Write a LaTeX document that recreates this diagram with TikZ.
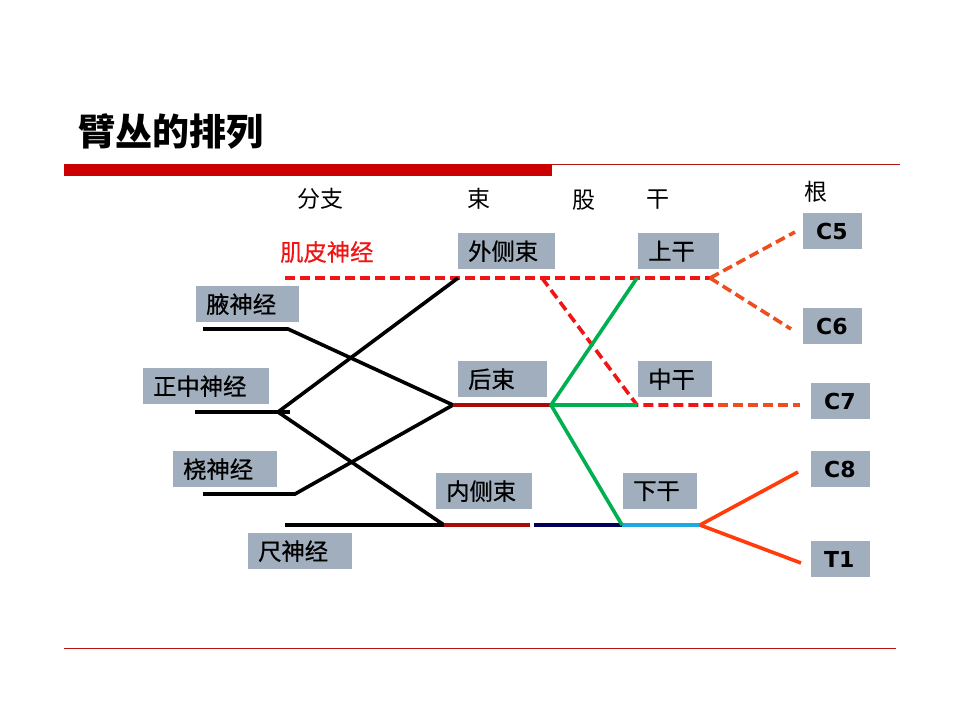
\documentclass[tikz,border=0pt]{standalone}
\usepackage{fontspec}
\newfontfamily\cjk{Noto Sans CJK SC}
\newfontfamily\cjkm[FakeBold=0.5]{Noto Sans CJK SC}
\newfontfamily\lat{DejaVu Sans}
\definecolor{boxgray}{RGB}{161,174,190}
\definecolor{barred}{RGB}{204,0,0}
\definecolor{linered}{RGB}{180,20,20}
\definecolor{dashred}{RGB}{240,20,20}
\definecolor{dashorange}{RGB}{238,78,30}
\definecolor{solidorange}{RGB}{255,60,10}
\definecolor{nervegreen}{RGB}{0,176,80}
\definecolor{darkred}{RGB}{170,10,10}
\definecolor{navyblue}{RGB}{0,0,90}
\definecolor{skyblue}{RGB}{30,170,225}
\tikzset{
  box/.style={fill=boxgray, anchor=north west, minimum height=36pt, inner xsep=10pt, inner ysep=0pt, align=left, font=\cjkm\fontsize{23.3}{27}\selectfont},
  cbox/.style={fill=boxgray, anchor=north west, minimum height=36pt, inner xsep=13pt, inner ysep=0pt, align=left, text width=33pt, font=\lat\bfseries\fontsize{22}{26}\selectfont},
  head/.style={font=\cjk\fontsize{23}{26}\selectfont},
  nline/.style={line width=3.6pt},
  blk/.style={nline, black},
  rdash/.style={nline, dashred, dash pattern=on 10pt off 5pt},
  odash/.style={nline, dashorange, dash pattern=on 10pt off 5pt},
}
\begin{document}
\begin{tikzpicture}[x=1pt,y=-1pt]
\useasboundingbox (0,0) rectangle (960,720);
% title and rules
\node[anchor=west, inner xsep=0pt, font=\cjk\bfseries\fontsize{37}{42}\selectfont] (title) at (78,132) {臂丛的排列};
\fill[barred] (64,164) rectangle (552,176);
\draw[linered, line width=1pt] (552,164.5) -- (900,164.5);
\draw[linered, line width=1pt] (64,648) -- (896,648);
% headers
\node[head] (hbr) at (320,199) {分支};
\node[head] (hco) at (479,199) {束};
\node[head] (hdi) at (584,200) {股};
\node[head] (htr) at (658,200) {干};
\node[head] (hro) at (816,192) {根};
% label boxes
\node[box, text width=77pt] (lat) at (458,233) {外侧束};
\node[box, text width=61pt] (sup) at (638,233) {上干};
\node[box, text width=69pt] (post) at (458,361) {后束};
\node[box, text width=54pt] (mid) at (638,361) {中干};
\node[box, text width=76pt] (med) at (436,473) {内侧束};
\node[box, text width=54pt] (inf) at (623,473) {下干};
\node[box, text width=84pt] (uln) at (248,533) {尺神经};
\node[box, text width=84pt] (rad) at (173,451) {桡神经};
\node[box, text width=83pt] (axi) at (196,286) {腋神经};
\node[box, text width=106pt] (medn) at (143,368) {正中神经};
\node[anchor=west, inner xsep=0pt, text=dashred, font=\cjkm\fontsize{23.3}{27}\selectfont] (mus) at (280,252) {肌皮神经};
\node[cbox] (c5) at (803,213) {C5};
\node[cbox] (c6) at (803,308) {C6};
\node[cbox] (c7) at (811,383) {C7};
\node[cbox] (c8) at (811,451) {C8};
\node[cbox] (t1) at (811,541) {T1};
% coordinates
\coordinate (axL) at (203,329); \coordinate (axR) at (288,329);
\coordinate (meL) at (195,412); \coordinate (meR) at (290,412); \coordinate (meJ) at (278,412);
\coordinate (raL) at (203,494); \coordinate (raR) at (295,494);
\coordinate (ulL) at (285,525);
\coordinate (latJ) at (458,278);
\coordinate (postJ) at (453,405);
\coordinate (medJ) at (444,525);
\coordinate (medE) at (530,525);
\coordinate (navS) at (534,525);
\coordinate (infJ) at (622,525);
\coordinate (rootJ) at (700,525);
\coordinate (postE) at (551,405);
\coordinate (supJ) at (637,278);
\coordinate (midJ) at (637,405);
\coordinate (divJ) at (542,278);
\coordinate (mcS) at (285,278);
\coordinate (supE) at (710,278);
\coordinate (midO) at (718,405);
\coordinate (c7E) at (800,405);
\coordinate (c5E) at (795,232);
\coordinate (c6E) at (791,329);
\coordinate (c8E) at (798,472);
\coordinate (t1E) at (801,563);
% dashed lines
\draw[rdash] (mcS) -- (supE);
\draw[odash] (supE) -- (c5E);
\draw[odash] (supE) -- (c6E);
\draw[rdash] (divJ) -- (midJ) -- (midO);
\draw[odash] (midO) -- (c7E);
% black branches
\draw[blk] (axL) -- (axR) -- (postJ);
\draw[blk] (meL) -- (meR);
\draw[blk] (latJ) -- (meJ) -- (medJ);
\draw[blk] (raL) -- (raR) -- (postJ);
\draw[blk] (ulL) -- (medJ);
% cords and trunks
\draw[nline, darkred] (postJ) -- (postE);
\draw[nline, darkred] (medJ) -- (medE);
\draw[nline, navyblue] (navS) -- (infJ);
\draw[nline, skyblue] (infJ) -- (rootJ);
\draw[nline, nervegreen, line join=round] (supJ) -- (postE) -- (infJ);
\draw[nline, nervegreen] (postE) -- (midJ);
\draw[nline, solidorange] (rootJ) -- (c8E);
\draw[nline, solidorange] (rootJ) -- (t1E);
\end{tikzpicture}
\end{document}
